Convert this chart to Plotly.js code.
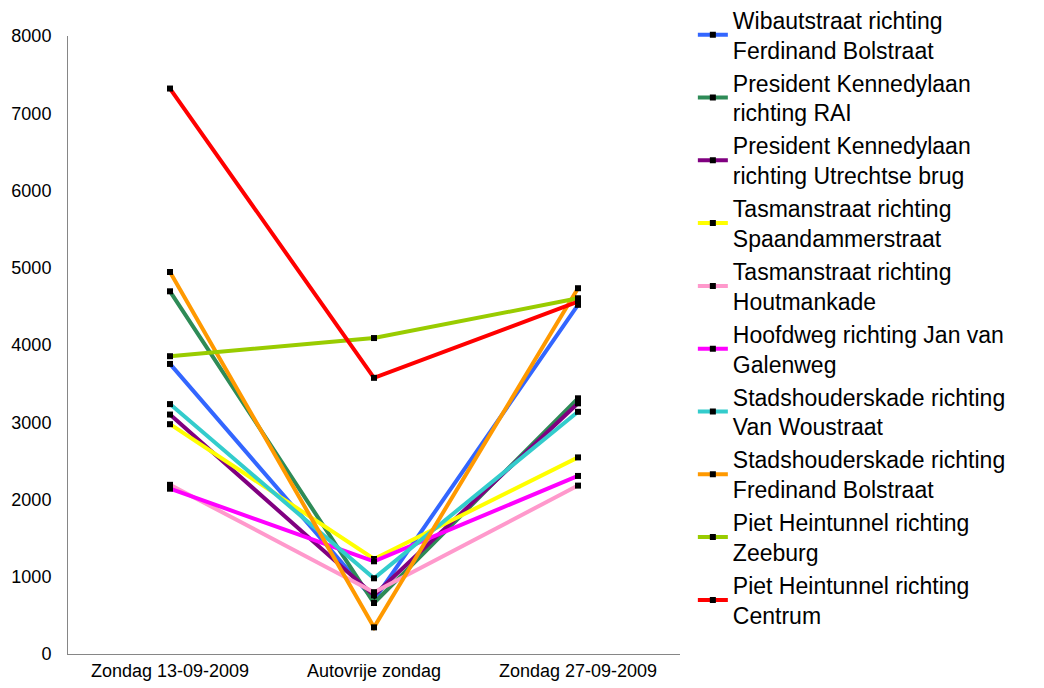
<!DOCTYPE html>
<html>
<head>
<meta charset="utf-8">
<script src="https://cdn.plot.ly/plotly-3.0.1.min.js"></script>
<style>html,body{margin:0;padding:0;background:#fff;}#chart{width:1044px;height:688px;}</style>
</head>
<body>
<div id="chart"></div>
<script>
const categories = ["Zondag 13-09-2009", "Autovrije zondag", "Zondag 27-09-2009"];
const seriesNames = [
  "Wibautstraat richting<br>Ferdinand Bolstraat",
  "President Kennedylaan<br>richting RAI",
  "President Kennedylaan<br>richting Utrechtse brug",
  "Tasmanstraat richting<br>Spaandammerstraat",
  "Tasmanstraat richting<br>Houtmankade",
  "Hoofdweg richting Jan van<br>Galenweg",
  "Stadshouderskade richting<br>Van Woustraat",
  "Stadshouderskade richting<br>Fredinand Bolstraat",
  "Piet Heintunnel richting<br>Zeeburg",
  "Piet Heintunnel richting<br>Centrum"
];
const wibautstraat = [3755, 700, 4520];
const kennedyRAI = [4695, 660, 3310];
const kennedyUtrecht = [3100, 760, 3245];
const tasmanSpaandam = [2975, 1230, 2545];
const tasmanHoutman = [2190, 800, 2180];
const hoofdweg = [2140, 1200, 2305];
const stadhVanWou = [3235, 980, 3135];
const stadhBolstraat = [4945, 345, 4735];
const pietZeeburg = [3855, 4090, 4605];
const pietCentrum = [7320, 3575, 4560];
const seriesValues = [wibautstraat, kennedyRAI, kennedyUtrecht, tasmanSpaandam, tasmanHoutman, hoofdweg, stadhVanWou, stadhBolstraat, pietZeeburg, pietCentrum];
const colors = ["#3366ff", "#2e8b57", "#800080", "#ffff00", "#ff99cc", "#ff00ff", "#33cccc", "#ff9900", "#99cc00", "#ff0000"];

const traces = seriesNames.map((n, i) => ({
  type: "scatter",
  mode: "lines+markers",
  name: n,
  x: categories,
  y: seriesValues[i],
  line: {color: colors[i], width: 4},
  marker: {symbol: "square", size: 6, color: "#000000"},
  legendgroup: "g" + i
}));

const layout = {
  width: 1044, height: 688,
  margin: {l: 68, r: 364, t: 36, b: 34, autoexpand: false},
  paper_bgcolor: "#ffffff", plot_bgcolor: "#ffffff",
  font: {family: "Liberation Sans, Arial, sans-serif", color: "#000000"},
  showlegend: true,
  legend: {
    x: 1.021, xanchor: "left", y: 1.061, yanchor: "top",
    font: {size: 23, color: "#000000"},
    tracegroupgap: 0,
    itemwidth: 30,
    maxheight: 688,
    bgcolor: "rgba(0,0,0,0)"
  },
  xaxis: {
    type: "category",
    range: [-0.5, 2.5],
    showgrid: false, zeroline: false,
    showline: true, linecolor: "#868686", linewidth: 1,
    ticks: "", tickfont: {size: 18}
  },
  yaxis: {
    range: [0, 8000],
    dtick: 1000,
    showgrid: false, zeroline: false,
    showline: true, linecolor: "#868686", linewidth: 1,
    ticks: "", tickfont: {size: 18},
    ticklabelstandoff: 12
  }
};

Plotly.newPlot("chart", traces, layout, {displayModeBar: false, staticPlot: true});
</script>
</body>
</html>
